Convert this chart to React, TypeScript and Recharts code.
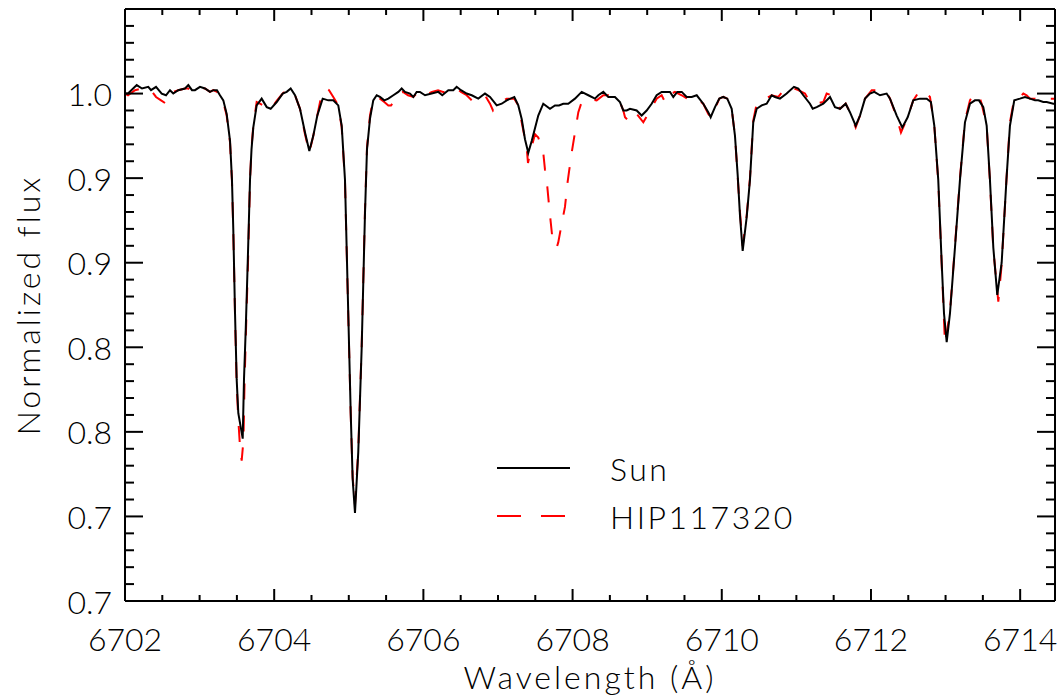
import React from 'react';
import { LineChart, Line, XAxis, YAxis, Legend } from 'recharts';

// ---------- data ----------
const sunWave = [
  6702.000, 6702.040, 6702.157, 6702.228, 6702.312, 6702.349, 6702.416, 6702.492, 6702.550, 6702.603,
  6702.647, 6702.714, 6702.804, 6702.849, 6702.898, 6702.938, 6703.005, 6703.072, 6703.139, 6703.184,
  6703.233, 6703.273, 6703.318, 6703.363, 6703.408, 6703.434, 6703.452, 6703.475, 6703.497, 6703.519,
  6703.578, 6703.595, 6703.618, 6703.645, 6703.676, 6703.696, 6703.720, 6703.765, 6703.832, 6703.900,
  6703.953, 6704.034, 6704.114, 6704.168, 6704.221, 6704.279, 6704.346, 6704.413, 6704.471, 6704.524,
  6704.578, 6704.650, 6704.725, 6704.792, 6704.859, 6704.905, 6704.949, 6704.993, 6705.026, 6705.052,
  6705.083, 6705.127, 6705.173, 6705.217, 6705.244, 6705.284, 6705.328, 6705.374, 6705.418, 6705.476,
  6705.530, 6705.597, 6705.664, 6705.709, 6705.753, 6705.820, 6705.865, 6705.910, 6705.954, 6706.022,
  6706.111, 6706.200, 6706.253, 6706.334, 6706.401, 6706.446, 6706.504, 6706.580, 6706.648, 6706.736,
  6706.826, 6706.893, 6706.983, 6707.050, 6707.117, 6707.219, 6707.272, 6707.318, 6707.362, 6707.406,
  6707.452, 6707.540, 6707.607, 6707.697, 6707.764, 6707.818, 6707.875, 6707.942, 6708.032, 6708.122,
  6708.211, 6708.300, 6708.345, 6708.412, 6708.479, 6708.568, 6708.635, 6708.680, 6708.725, 6708.770,
  6708.859, 6708.926, 6708.993, 6709.060, 6709.127, 6709.194, 6709.306, 6709.350, 6709.404, 6709.463,
  6709.530, 6709.597, 6709.664, 6709.752, 6709.819, 6709.851, 6709.909, 6709.967, 6710.020, 6710.074,
  6710.133, 6710.177, 6710.213, 6710.244, 6710.280, 6710.334, 6710.378, 6710.422, 6710.468, 6710.535,
  6710.602, 6710.669, 6710.713, 6710.780, 6710.870, 6710.968, 6711.026, 6711.093, 6711.182, 6711.219,
  6711.272, 6711.361, 6711.451, 6711.518, 6711.585, 6711.661, 6711.718, 6711.795, 6711.853, 6711.920,
  6711.987, 6712.044, 6712.121, 6712.210, 6712.255, 6712.345, 6712.420, 6712.492, 6712.567, 6712.657,
  6712.747, 6712.804, 6712.849, 6712.902, 6712.948, 6712.979, 6713.015, 6713.059, 6713.126, 6713.193,
  6713.260, 6713.327, 6713.394, 6713.448, 6713.506, 6713.551, 6713.595, 6713.640, 6713.693, 6713.752,
  6713.816, 6713.863, 6713.921, 6713.997, 6714.065, 6714.132, 6714.199, 6714.243, 6714.310, 6714.355,
  6714.444, 6714.467,
];

const sunFlux = [
  1.000, 1.000, 1.005, 1.003, 1.004, 1.002, 1.004, 1.000, 0.999, 1.002,
  1.000, 1.002, 1.003, 1.005, 1.002, 1.002, 1.004, 1.003, 1.001, 1.002,
  1.002, 0.999, 0.996, 0.988, 0.972, 0.949, 0.919, 0.870, 0.831, 0.811,
  0.796, 0.831, 0.860, 0.900, 0.949, 0.967, 0.980, 0.993, 0.997, 0.992,
  0.991, 0.995, 1.000, 1.001, 1.003, 0.999, 0.991, 0.977, 0.966, 0.975,
  0.987, 0.997, 0.996, 0.996, 0.993, 0.981, 0.949, 0.870, 0.811, 0.772,
  0.752, 0.788, 0.850, 0.929, 0.967, 0.985, 0.996, 0.999, 0.998, 0.996,
  0.997, 0.999, 1.001, 1.003, 1.001, 1.000, 0.998, 1.001, 1.001, 0.999,
  1.000, 1.001, 0.999, 1.002, 1.002, 1.004, 1.002, 1.000, 0.999, 0.997,
  1.000, 0.998, 0.993, 0.994, 0.996, 0.998, 0.993, 0.985, 0.973, 0.965,
  0.972, 0.987, 0.994, 0.991, 0.993, 0.993, 0.994, 0.994, 0.997, 1.001,
  0.999, 0.997, 0.999, 1.001, 0.998, 0.998, 0.995, 0.990, 0.990, 0.991,
  0.990, 0.987, 0.990, 0.994, 0.999, 1.001, 1.001, 0.998, 1.001, 1.001,
  0.998, 0.998, 0.999, 0.994, 0.989, 0.986, 0.992, 0.997, 0.998, 0.997,
  0.991, 0.975, 0.952, 0.928, 0.907, 0.927, 0.949, 0.983, 0.991, 0.993,
  0.994, 0.999, 0.998, 0.997, 1.000, 1.004, 1.003, 0.999, 0.994, 0.991,
  0.992, 0.994, 0.998, 0.992, 0.991, 0.994, 0.989, 0.981, 0.987, 0.997,
  1.000, 1.001, 0.999, 1.000, 0.997, 0.987, 0.980, 0.986, 0.996, 0.997,
  0.997, 0.995, 0.981, 0.949, 0.900, 0.870, 0.853, 0.870, 0.909, 0.949,
  0.983, 0.994, 0.996, 0.996, 0.992, 0.981, 0.949, 0.909, 0.881, 0.900,
  0.949, 0.981, 0.996, 0.997, 0.998, 0.997, 0.996, 0.996, 0.995, 0.995,
  0.994, 0.994,
];

const hipWave = [
  6702.000, 6702.040, 6702.134, 6702.228, 6702.308, 6702.349, 6702.416, 6702.483, 6702.550, 6702.603,
  6702.647, 6702.714, 6702.804, 6702.849, 6702.898, 6702.938, 6703.005, 6703.072, 6703.139, 6703.184,
  6703.233, 6703.273, 6703.318, 6703.363, 6703.408, 6703.434, 6703.452, 6703.475, 6703.497, 6703.519,
  6703.542, 6703.564, 6703.588, 6703.602, 6703.622, 6703.649, 6703.676, 6703.696, 6703.720, 6703.765,
  6703.810, 6703.854, 6703.904, 6703.957, 6704.038, 6704.114, 6704.168, 6704.221, 6704.279, 6704.346,
  6704.413, 6704.471, 6704.524, 6704.578, 6704.637, 6704.704, 6704.735, 6704.792, 6704.859, 6704.905,
  6704.949, 6704.993, 6705.026, 6705.052, 6705.083, 6705.127, 6705.173, 6705.217, 6705.244, 6705.284,
  6705.328, 6705.374, 6705.418, 6705.476, 6705.530, 6705.566, 6705.619, 6705.664, 6705.727, 6705.794,
  6705.865, 6705.910, 6705.954, 6706.022, 6706.115, 6706.196, 6706.263, 6706.334, 6706.401, 6706.446,
  6706.504, 6706.580, 6706.648, 6706.736, 6706.826, 6706.893, 6706.933, 6706.987, 6707.050, 6707.117,
  6707.219, 6707.272, 6707.318, 6707.385, 6707.402, 6707.442, 6707.496, 6707.540, 6707.607, 6707.630,
  6707.661, 6707.684, 6707.707, 6707.733, 6707.787, 6707.808, 6707.854, 6707.898, 6707.934, 6707.956,
  6707.988, 6708.032, 6708.077, 6708.122, 6708.211, 6708.323, 6708.412, 6708.479, 6708.568, 6708.635,
  6708.680, 6708.703, 6708.770, 6708.859, 6708.948, 6709.038, 6709.127, 6709.194, 6709.239, 6709.306,
  6709.329, 6709.373, 6709.463, 6709.574, 6709.664, 6709.752, 6709.819, 6709.855, 6709.909, 6709.967,
  6710.020, 6710.074, 6710.133, 6710.177, 6710.213, 6710.244, 6710.280, 6710.334, 6710.378, 6710.422,
  6710.468, 6710.553, 6710.669, 6710.758, 6710.847, 6710.914, 6711.026, 6711.115, 6711.182, 6711.205,
  6711.249, 6711.361, 6711.406, 6711.473, 6711.531, 6711.585, 6711.661, 6711.718, 6711.795, 6711.853,
  6711.920, 6712.010, 6712.094, 6712.210, 6712.255, 6712.345, 6712.402, 6712.492, 6712.567, 6712.657,
  6712.724, 6712.791, 6712.849, 6712.902, 6712.948, 6712.992, 6713.032, 6713.059, 6713.126, 6713.193,
  6713.260, 6713.327, 6713.372, 6713.439, 6713.484, 6713.551, 6713.595, 6713.640, 6713.707, 6713.752,
  6713.816, 6713.863, 6713.921, 6713.975, 6714.042, 6714.087, 6714.132, 6714.199, 6714.266, 6714.333,
  6714.400, 6714.467,
];

const hipFlux = [
  1.000, 0.999, 1.002, 1.003, 1.003, 1.002, 0.998, 0.996, 0.994, 0.999,
  1.001, 1.002, 1.003, 1.003, 1.002, 1.001, 1.003, 1.003, 1.001, 1.002,
  1.001, 0.999, 0.995, 0.987, 0.971, 0.948, 0.918, 0.869, 0.828, 0.807,
  0.791, 0.783, 0.795, 0.828, 0.860, 0.900, 0.949, 0.968, 0.981, 0.995,
  0.994, 0.993, 0.991, 0.991, 0.996, 1.000, 1.002, 1.003, 0.999, 0.991,
  0.976, 0.965, 0.975, 0.987, 1.000, 1.003, 1.002, 0.998, 0.993, 0.980,
  0.948, 0.869, 0.810, 0.773, 0.757, 0.789, 0.851, 0.931, 0.968, 0.987,
  0.997, 0.998, 0.997, 0.995, 0.993, 0.993, 0.996, 1.000, 1.001, 0.999,
  0.998, 1.000, 1.001, 0.999, 1.001, 1.002, 1.001, 1.001, 1.002, 1.003,
  1.001, 0.999, 0.996, 0.997, 0.999, 0.994, 0.990, 0.993, 0.995, 0.997,
  0.997, 0.993, 0.983, 0.968, 0.959, 0.967, 0.976, 0.974, 0.965, 0.955,
  0.945, 0.934, 0.924, 0.913, 0.909, 0.912, 0.923, 0.933, 0.948, 0.955,
  0.965, 0.977, 0.989, 0.995, 0.997, 0.996, 0.999, 0.999, 0.997, 0.995,
  0.990, 0.986, 0.983, 0.988, 0.983, 0.990, 0.997, 0.999, 0.995, 0.996,
  1.000, 1.001, 0.999, 0.996, 0.997, 0.994, 0.988, 0.986, 0.991, 0.997,
  0.998, 0.997, 0.991, 0.975, 0.951, 0.930, 0.910, 0.928, 0.950, 0.984,
  0.994, 0.996, 0.999, 0.998, 1.003, 1.004, 1.002, 1.000, 0.995, 0.994,
  0.994, 0.995, 1.000, 0.999, 0.995, 0.991, 0.994, 0.989, 0.980, 0.987,
  0.997, 1.002, 1.002, 1.001, 0.997, 0.986, 0.977, 0.986, 0.996, 1.002,
  1.001, 0.998, 0.981, 0.948, 0.899, 0.852, 0.863, 0.871, 0.910, 0.950,
  0.984, 0.996, 0.999, 1.000, 0.994, 0.981, 0.948, 0.908, 0.877, 0.899,
  0.949, 0.983, 0.997, 0.997, 1.000, 0.999, 0.997, 0.997, 0.996, 0.997,
  0.997, 0.997,
];

const xDomain = [6702, 6714.467];
const yDomain = [0.7, 1.05];

const xTicks = [
  6702, 6702.5, 6703, 6703.5, 6704, 6704.5, 6705, 6705.5, 6706, 6706.5, 6707, 6707.5,
  6708, 6708.5, 6709, 6709.5, 6710, 6710.5, 6711, 6711.5, 6712, 6712.5, 6713, 6713.5, 6714,
];
const xMajorTicks = [6702, 6704, 6706, 6708, 6710, 6712, 6714];

const yTicks = [
  0.70, 0.71, 0.72, 0.73, 0.74, 0.75, 0.76, 0.77, 0.78, 0.79,
  0.80, 0.81, 0.82, 0.83, 0.84, 0.85, 0.86, 0.87, 0.88, 0.89,
  0.90, 0.91, 0.92, 0.93, 0.94, 0.95, 0.96, 0.97, 0.98, 0.99,
  1.00, 1.01, 1.02, 1.03, 1.04,
];
const yLabelValues = [0.70, 0.75, 0.80, 0.85, 0.90, 0.95, 1.00];
const yLabelTexts = ['0.7', '0.7', '0.8', '0.8', '0.9', '0.9', '1.0'];

const seriesNames = ['Sun', 'HIP117320'];

const sunData = sunWave.map((w, i) => ({ wave: w, flux: sunFlux[i] }));
const hipData = hipWave.map((w, i) => ({ wave: w, flux: hipFlux[i] }));

// ---------- styling ----------
const FONT = "Lato, 'Open Sans', 'DejaVu Sans', sans-serif";
const tickText: React.CSSProperties = { fontFamily: FONT, fontSize: 32, fontWeight: 300, fill: '#000' };
const titleText: React.CSSProperties = { fontFamily: FONT, fontSize: 32, fontWeight: 300, fill: '#000', letterSpacing: 3 };
const legendText: React.CSSProperties = { fontFamily: FONT, fontSize: 32, fontWeight: 300, fill: '#000', letterSpacing: 2.5 };
const axisLineStyle = { stroke: '#000', strokeWidth: 2 };
const RED = '#ff0000';
const DASH = '16 16';

const near = (a: number, b: number) => Math.abs(a - b) < 1e-6;
const isYMajor = (v: number) => yLabelValues.some((l) => near(l, v));
const isXMajor = (v: number) => xMajorTicks.some((l) => near(l, v));

function LeftTick(props: any) {
  const { x, y, payload } = props;
  const v = payload.value;
  const li = yLabelValues.findIndex((l) => near(l, v));
  const len = li >= 0 ? 18 : 9;
  return (
    <g>
      <line x1={x} y1={y} x2={x + len} y2={y} stroke="#000" strokeWidth={2} />
      {li >= 0 && (
        <text x={x - 13} y={y} textAnchor="end" dominantBaseline="central" style={tickText}>
          {yLabelTexts[li]}
        </text>
      )}
    </g>
  );
}

function RightTick(props: any) {
  const { x, y, payload } = props;
  const len = isYMajor(payload.value) ? 18 : 9;
  return <line x1={x} y1={y} x2={x - len} y2={y} stroke="#000" strokeWidth={2} />;
}

function BottomTick(props: any) {
  const { x, y, payload } = props;
  const major = isXMajor(payload.value);
  const len = major ? 12 : 6;
  return (
    <g>
      <line x1={x} y1={y} x2={x} y2={y - len} stroke="#000" strokeWidth={2} />
      {major && (
        <text x={x} y={y + 37} textAnchor="middle" dominantBaseline="central" style={tickText}>
          {String(payload.value)}
        </text>
      )}
    </g>
  );
}

function TopTick(props: any) {
  const { x, y, payload } = props;
  const len = isXMajor(payload.value) ? 12 : 6;
  return <line x1={x} y1={y} x2={x} y2={y + len} stroke="#000" strokeWidth={2} />;
}

function XTitle(props: any) {
  const vb = props.viewBox || { x: 125, y: 601, width: 930, height: 95 };
  const cx = vb.x + vb.width / 2;
  const by = vb.y + 88;
  return (
    <text x={cx} y={by} textAnchor="middle" style={titleText}>
      Wavelength (Å)
    </text>
  );
}

function YTitle(props: any) {
  const vb = props.viewBox || { x: 0, y: 9, width: 125, height: 592 };
  const cx = vb.x + 27;
  const cy = vb.y + vb.height / 2;
  return (
    <text
      x={cx}
      y={cy}
      transform={`rotate(-90 ${cx} ${cy})`}
      textAnchor="middle"
      dominantBaseline="central"
      style={titleText}
    >
      Normalized flux
    </text>
  );
}

function LegendBox() {
  return (
    <svg width={320} height={100} style={{ display: 'block', overflow: 'visible' }}>
      <line x1={7} y1={28} x2={80} y2={28} stroke="#000" strokeWidth={2} />
      <text x={120} y={28} dominantBaseline="central" style={legendText}>
        {seriesNames[0]}
      </text>
      <line x1={7} y1={76} x2={80} y2={76} stroke={RED} strokeWidth={2} strokeDasharray="24 20" />
      <text x={120} y={76} dominantBaseline="central" style={legendText}>
        {seriesNames[1]}
      </text>
    </svg>
  );
}

export default function App() {
  return (
    <div style={{ position: 'absolute', left: 0, top: 0, width: 1060, height: 696, background: '#fff' }}>
      <LineChart width={1060} height={696} margin={{ top: 8, right: 4, bottom: 0, left: 0 }}>
        <XAxis
          xAxisId={0}
          dataKey="wave"
          type="number"
          domain={xDomain}
          allowDataOverflow
          ticks={xTicks}
          interval={0}
          height={95}
          tickSize={0}
          tickMargin={0}
          tickLine={false}
          axisLine={axisLineStyle}
          tick={<BottomTick />}
          label={(p: any) => <XTitle {...p} />}
        />
        <XAxis
          xAxisId="top"
          orientation="top"
          dataKey="wave"
          type="number"
          domain={xDomain}
          allowDataOverflow
          ticks={xTicks}
          interval={0}
          height={1}
          tickSize={0}
          tickMargin={0}
          tickLine={false}
          axisLine={axisLineStyle}
          tick={<TopTick />}
        />
        <YAxis
          yAxisId={0}
          type="number"
          domain={yDomain}
          allowDataOverflow
          ticks={yTicks}
          interval={0}
          width={125}
          tickSize={0}
          tickMargin={0}
          tickLine={false}
          axisLine={axisLineStyle}
          tick={<LeftTick />}
          label={(p: any) => <YTitle {...p} />}
        />
        <YAxis
          yAxisId="right"
          orientation="right"
          type="number"
          domain={yDomain}
          allowDataOverflow
          ticks={yTicks}
          interval={0}
          width={1}
          tickSize={0}
          tickMargin={0}
          tickLine={false}
          axisLine={axisLineStyle}
          tick={<RightTick />}
        />
        <Legend
          layout="horizontal"
          verticalAlign="middle"
          align="center"
          content={() => <LegendBox />}
          wrapperStyle={{ position: 'absolute', left: 490, top: 440, width: 320, height: 100, margin: 0, padding: 0 }}
        />
        <Line
          data={hipData}
          dataKey="flux"
          name={seriesNames[1]}
          xAxisId={0}
          yAxisId={0}
          type="linear"
          stroke={RED}
          strokeWidth={2}
          strokeDasharray={DASH}
          dot={false}
          activeDot={false}
          isAnimationActive={false}
        />
        <Line
          data={sunData}
          dataKey="flux"
          name={seriesNames[0]}
          xAxisId={0}
          yAxisId={0}
          type="linear"
          stroke="#000"
          strokeWidth={2}
          dot={false}
          activeDot={false}
          isAnimationActive={false}
        />
      </LineChart>
    </div>
  );
}
